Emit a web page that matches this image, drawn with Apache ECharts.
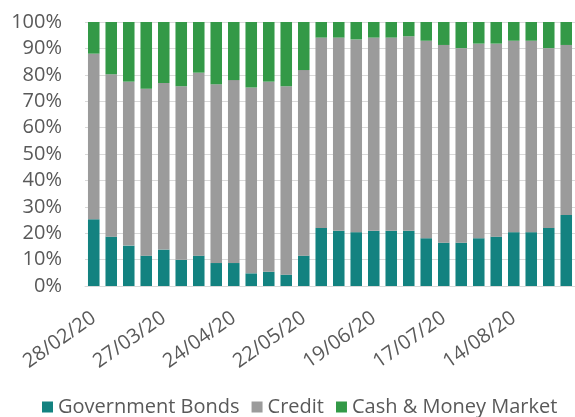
<!DOCTYPE html>
<html lang="en">
    <head>
        <meta charset="UTF-8" />
        <title>Asset allocation</title>
        <script src="https://cdn.jsdelivr.net/npm/echarts@6/dist/echarts.min.js"></script>
        <style>
            html, body { margin: 0; padding: 0; background: #fff; }
            #chart { width: 575px; height: 417px; }
        </style>
    </head>

    <body>
        <div id="chart"></div>

        <script>
            // weekly dates
            var dates = [
                '28/02/20', '06/03/20', '13/03/20', '20/03/20', '27/03/20', '03/04/20', '10/04/20',
                '17/04/20', '24/04/20', '01/05/20', '08/05/20', '15/05/20', '22/05/20', '29/05/20',
                '05/06/20', '12/06/20', '19/06/20', '26/06/20', '03/07/20', '10/07/20', '17/07/20',
                '24/07/20', '31/07/20', '07/08/20', '14/08/20', '21/08/20', '28/08/20', '04/09/20'
            ];
            var govBonds = [25.3, 18.7, 15.3, 11.5, 13.8, 9.9, 11.5, 8.7, 8.7, 4.8, 5.4, 4.3, 11.5, 22.0,
                20.9, 20.4, 20.9, 20.9, 20.9, 18.1, 16.4, 16.4, 18.1, 18.7, 20.4, 20.4, 22.0, 26.9];
            var credit = [62.7, 61.5, 62.1, 63.2, 63.1, 65.8, 69.3, 67.7, 69.3, 70.4, 72.0, 71.4, 70.3, 72.1,
                73.2, 73.0, 73.2, 73.2, 73.7, 74.8, 74.9, 73.7, 73.7, 73.1, 72.5, 72.5, 68.1, 64.4];
            var cash = [12.0, 19.8, 22.6, 25.3, 23.1, 24.3, 19.2, 23.6, 22.0, 24.8, 22.6, 24.3, 18.2, 5.9,
                5.9, 6.6, 5.9, 5.9, 5.4, 7.1, 8.7, 9.9, 8.2, 8.2, 7.1, 7.1, 9.9, 8.7];

            var fontName = 'Open Sans';
            var textColor = '#595959';

            var myChart = echarts.init(document.getElementById('chart'));

            function barSeries(name, data, color) {
                return {
                    name: name,
                    type: 'bar',
                    stack: 'total',
                    barWidth: '66%',
                    data: data,
                    itemStyle: { color: color },
                };
            }

            var option = {
                animation: false,
                grid: { left: 85, right: 0, top: 22, bottom: 131 },
                legend: {
                    bottom: 0,
                    padding: 0,
                    left: 42,
                    icon: 'rect',
                    itemWidth: 11,
                    itemHeight: 11,
                    itemGap: 12,
                    textStyle: { color: textColor, fontSize: 20, fontFamily: fontName },
                    data: ['Government Bonds', 'Credit', 'Cash & Money Market'],
                },
                xAxis: {
                    type: 'category',
                    data: dates,
                    axisTick: { show: false },
                    axisLine: { lineStyle: { color: '#d9d9d9' } },
                    axisLabel: {
                        interval: 3,
                        rotate: 35,
                        margin: 30,
                        color: textColor,
                        fontSize: 20,
                        fontFamily: fontName,
                    },
                },
                yAxis: {
                    type: 'value',
                    min: 0,
                    max: 100,
                    interval: 10,
                    axisLine: { show: false },
                    axisTick: { show: false },
                    splitLine: { lineStyle: { color: '#d9d9d9' } },
                    axisLabel: {
                        formatter: '{value}%',
                        margin: 23,
                        color: textColor,
                        fontSize: 20,
                        fontFamily: fontName,
                    },
                },
                series: [
                    barSeries('Government Bonds', govBonds, '#138280'),
                    barSeries('Credit', credit, '#9b9b9b'),
                    barSeries('Cash & Money Market', cash, '#339947'),
                ],
            };
            myChart.setOption(option, true);
        </script>
    </body>
</html>
